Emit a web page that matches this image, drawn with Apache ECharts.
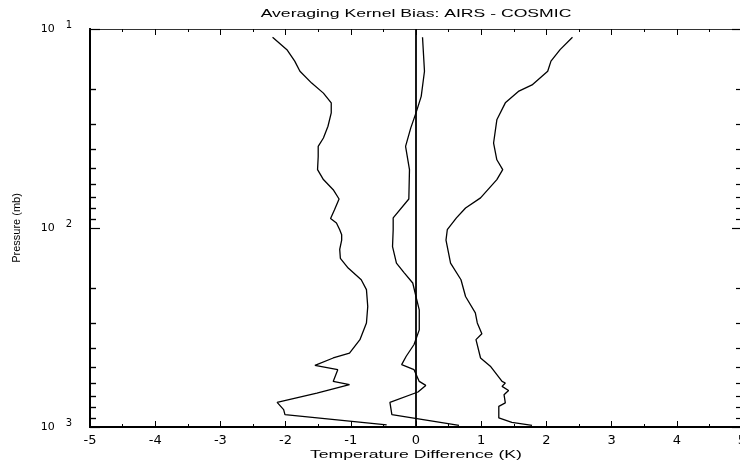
<!DOCTYPE html>
<html>
<head>
<meta charset="utf-8">
<script src="https://cdn.jsdelivr.net/npm/echarts@6/dist/echarts.min.js"></script>
<style>html,body{margin:0;padding:0;background:#fff}#c{width:740px;height:466px}</style>
</head>
<body>
<div id="c"></div>
<script>
// ---- data (pressure in mb, temperature difference in K) ----
const titleText = 'Averaging Kernel Bias: AIRS - COSMIC';
const xName = 'Temperature Difference (K)';
const yName = 'Pressure (mb)';

const xTicks = [-5, -4, -3, -2, -1, 0, 1, 2, 3, 4, 5];
const yMajorTicks = [10, 100, 1000];
const yMinorTicks = [20, 30, 40, 50, 60, 70, 80, 90, 200, 300, 400, 500, 600, 700, 800, 900];

const pLeft = [11.0, 12.7, 14.5, 16.3, 18.7, 21.0, 23.5, 26.4, 30.8, 35.3, 38.9, 43.7, 50.9, 57.1, 64.2, 71.5, 80.9, 89.5, 94.4, 102, 108, 115, 128, 142, 159, 182, 204, 248, 300, 364, 425, 450, 490, 515, 590, 613, 675, 752, 818, 867, 975];
const tLeft = [-2.20, -1.98, -1.86, -1.78, -1.60, -1.42, -1.30, -1.30, -1.35, -1.42, -1.50, -1.50, -1.51, -1.42, -1.27, -1.18, -1.25, -1.31, -1.22, -1.17, -1.14, -1.14, -1.17, -1.16, -1.04, -0.84, -0.76, -0.74, -0.76, -0.86, -1.02, -1.27, -1.55, -1.20, -1.27, -1.02, -1.52, -2.13, -2.03, -2.01, -0.45];

const pMean = [11.0, 16.3, 21.8, 26.4, 31.4, 38.9, 50.9, 71.5, 89, 102, 124, 150, 168, 189, 221, 258, 325, 385, 441, 486, 515, 590, 618, 667, 752, 867, 981];
const tMean = [0.10, 0.13, 0.08, 0.0, -0.08, -0.16, -0.10, -0.11, -0.35, -0.35, -0.36, -0.30, -0.18, -0.05, 0.0, 0.05, 0.05, -0.03, -0.15, -0.22, -0.03, 0.05, 0.15, 0.03, -0.40, -0.37, 0.66];

const pRight = [11.0, 12.7, 14.5, 16.3, 19.1, 20.6, 23.5, 28.6, 37.4, 45.4, 50.9, 57.1, 70.6, 79.3, 89, 102, 115, 150, 182, 221, 267, 300, 340, 364, 450, 495, 590, 601, 625, 655, 688, 757, 787, 901, 948, 981];
const tRight = [2.40, 2.21, 2.07, 2.02, 1.78, 1.57, 1.37, 1.24, 1.19, 1.24, 1.33, 1.24, 0.99, 0.76, 0.62, 0.48, 0.46, 0.53, 0.69, 0.76, 0.91, 0.94, 1.01, 0.92, 0.99, 1.14, 1.32, 1.37, 1.32, 1.42, 1.35, 1.37, 1.27, 1.27, 1.47, 1.78];

const zeroLine = 0;

// ---- chart ----
const pair = (t, p) => t.map((v, i) => [v, p[i]]);
const chart = echarts.init(document.getElementById('c'));

const baseFont = 'Liberation Sans';
const tickFont = 'DejaVu Sans';
const GRID_W = 652;
const gridRect = {left: 90, top: 29, width: GRID_W, height: 398, outerBoundsMode: 'none'};

function yAxisDef(gridIndex, position, ticks, len, inside, showLine, labelTicks, onZero) {
  return {
    gridIndex: gridIndex,
    type: 'log', min: 10, max: 1000, inverse: true, position: position,
    axisLine: {show: showLine, onZero: !!onZero, onZeroAxisIndex: onZero ? 2 : undefined, lineStyle: {color: '#000', width: 2}},
    axisTick: {show: true, inside: inside, length: len, customValues: ticks, lineStyle: {color: '#000', width: 1.2}},
    axisLabel: labelTicks ? {
      show: true, customValues: labelTicks, margin: 18,
      formatter: v => '{b|10}{s|' + Math.round(Math.log10(v)) + '}',
      rich: {
        b: {fontFamily: tickFont, fontSize: 11, color: '#000'},
        s: {fontFamily: tickFont, fontSize: 10, color: '#000', padding: [0, 0, 8, 11]}
      }
    } : {show: false},
    splitLine: {show: false}
  };
}

function xAxisDef(position, showLabel) {
  return {
    gridIndex: 0,
    type: 'value', min: xTicks[0], max: xTicks[xTicks.length - 1], interval: 1, position: position,
    axisLine: {show: true, onZero: false, lineStyle: {color: position === 'bottom' ? '#000' : '#333', width: position === 'bottom' ? 2 : 1}},
    axisTick: {show: true, inside: true, length: 6, lineStyle: {color: '#000', width: 1}},
    minorTick: {show: true, splitNumber: 2, length: 3, lineStyle: {color: '#000', width: 1}},
    axisLabel: {show: showLabel, margin: 7, fontFamily: tickFont, fontSize: 13, color: '#000'},
    splitLine: {show: false}, minorSplitLine: {show: false}
  };
}

const lineStyle = {color: '#000', width: 1.3};

chart.setOption({
  animation: false,
  backgroundColor: '#fff',
  grid: [Object.assign({}, gridRect), Object.assign({}, gridRect)],
  xAxis: [
    xAxisDef('bottom', true),
    xAxisDef('top', false),
    // helper axis of the overlaid grid: its zero sits on the left edge, so the left tick axis lands there
    {gridIndex: 1, type: 'value', min: 0, max: 10, position: 'bottom',
     axisLine: {show: false, onZero: false}, axisTick: {show: false}, axisLabel: {show: false}, splitLine: {show: false}}
  ],
  yAxis: [
    yAxisDef(0, 'left', yMinorTicks, 6, true, true, yMajorTicks, false),
    yAxisDef(0, 'right', yMajorTicks, 10, true, true, null, false),
    yAxisDef(0, 'right', yMinorTicks, 6, true, false, null, false),
    // left-edge ticks in the overlaid grid
    yAxisDef(1, 'left', yMinorTicks, 6, true, true, null, true),
    yAxisDef(1, 'left', yMajorTicks, 10, true, false, null, true)
  ],
  graphic: [
    {type: 'text', x: 416, y: 13.5, scaleX: 1.6, silent: true,
     style: {text: titleText, font: '11px "' + baseFont + '"', fill: '#000', align: 'center', verticalAlign: 'middle'}},
    {type: 'text', x: 416, y: 455, scaleX: 1.6, silent: true,
     style: {text: xName, font: '11px "' + baseFont + '"', fill: '#000', align: 'center', verticalAlign: 'middle'}},
    {type: 'text', x: 17, y: 228, rotation: Math.PI / 2, silent: true,
     style: {text: yName, font: '11px "' + baseFont + '"', fill: '#000', align: 'center', verticalAlign: 'middle'}}
  ],
  series: [
    {type: 'line', xAxisIndex: 0, yAxisIndex: 0, data: pair(tLeft, pLeft), showSymbol: false, lineStyle: lineStyle, silent: true},
    {type: 'line', xAxisIndex: 0, yAxisIndex: 0, data: pair(tMean, pMean), showSymbol: false, lineStyle: lineStyle, silent: true,
     markLine: {silent: true, symbol: 'none', label: {show: false}, lineStyle: {color: '#000', width: 1.8, type: 'solid'}, data: [{xAxis: zeroLine}]}},
    {type: 'line', xAxisIndex: 0, yAxisIndex: 0, data: pair(tRight, pRight), showSymbol: false, lineStyle: lineStyle, silent: true}
  ]
});
</script>
</body>
</html>
